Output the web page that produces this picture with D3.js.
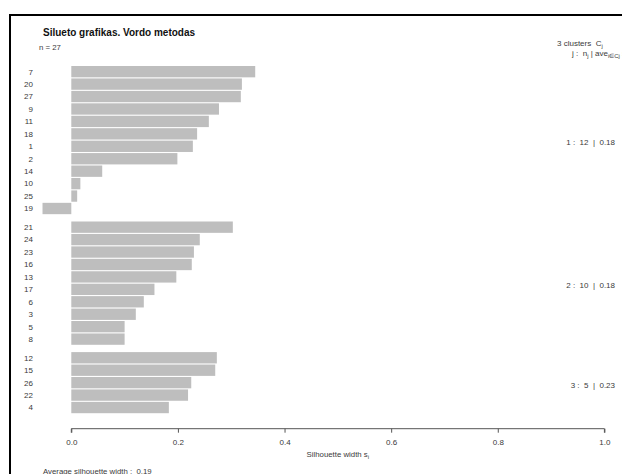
<!DOCTYPE html>
<meta charset="utf-8">
<title>Silueto grafikas</title>
<script src="https://cdn.jsdelivr.net/npm/d3@7"></script>
<style>
body { margin: 0; background: #fff; }
svg { display: block; font-family: "Liberation Sans", Arial, sans-serif; }
text { white-space: pre; }
</style>
<body>
<script>
// silhouette data, top to bottom as drawn
const ids = [7, 20, 27, 9, 11, 18, 1, 2, 14, 10, 25, 19,
	21, 24, 23, 16, 13, 17, 6, 3, 5, 8,
	12, 15, 26, 22, 4];
const clusters = [1, 1, 1, 1, 1, 1, 1, 1, 1, 1, 1, 1,
	2, 2, 2, 2, 2, 2, 2, 2, 2, 2,
	3, 3, 3, 3, 3];
const widths = [0.345, 0.320, 0.318, 0.277, 0.258, 0.236, 0.228, 0.199, 0.058, 0.017, 0.011, -0.054,
	0.303, 0.241, 0.230, 0.226, 0.197, 0.156, 0.136, 0.121, 0.100, 0.100,
	0.273, 0.270, 0.225, 0.219, 0.183];
const xTicks = [0, 0.2, 0.4, 0.6, 0.8, 1.0];

const W = 622, H = 474;
const textColor = '#3a3a3a';
const barColor = '#bebebe';
const gapUnits = 0.5;
const fs = 8;

// row positions in bar units, with a half-unit gap between clusters
const rows = [];
let pos = 0;
ids.forEach((id, i) => {
	if (i > 0 && clusters[i] !== clusters[i - 1]) pos += gapUnits;
	rows.push({ id, cluster: clusters[i], s: widths[i], pos });
	pos += 1;
});
const totalUnits = pos;

const x = d3.scaleLinear().domain([0, 1]).range([71.3, 604.4]);
const y = d3.scaleLinear().domain([0, totalUnits]).range([65.5, 413.8]);
const unit = y(1) - y(0);

const svg = d3.select('body').append('svg')
	.attr('width', W)
	.attr('height', H);

// frame
svg.append('path')
	.attr('d', `M10,${H} V15 H${W}`)
	.attr('fill', 'none')
	.attr('stroke', '#000')
	.attr('stroke-width', 2);

// title
svg.append('text')
	.attr('x', 43).attr('y', 35.5)
	.attr('font-size', 10)
	.attr('font-weight', 'bold')
	.attr('fill', '#111')
	.text('Silueto grafikas. Vordo metodas');
svg.append('text')
	.attr('x', 39).attr('y', 49.5)
	.attr('font-size', 7.8)
	.attr('fill', textColor)
	.text('n = ' + ids.length);

// bars
svg.append('g').selectAll('rect')
	.data(rows)
	.enter().append('rect')
		.attr('x', d => Math.min(x(0), x(d.s)))
		.attr('width', d => Math.abs(x(d.s) - x(0)))
		.attr('y', d => y(d.pos) + 0.5)
		.attr('height', unit - 1.1)
		.attr('fill', barColor);

// row labels
svg.append('g')
	.attr('font-size', fs)
	.attr('fill', textColor)
	.attr('text-anchor', 'end')
	.selectAll('text')
	.data(rows)
	.enter().append('text')
		.attr('x', 33)
		.attr('y', d => y(d.pos + 0.5))
		.attr('dy', '0.35em')
		.text(d => d.id);

// legend header
const legend = svg.append('g').attr('font-size', fs).attr('fill', textColor);
const head1 = legend.append('text').attr('x', 557).attr('y', 46);
head1.append('tspan').text('3 clusters  C');
head1.append('tspan').attr('font-size', 6).attr('dy', 2).text('j');
const head2 = legend.append('text').attr('x', 572).attr('y', 56);
head2.append('tspan').text('j :  n');
head2.append('tspan').attr('font-size', 6).attr('dy', 2).text('j');
head2.append('tspan').attr('dy', -2).text(' | ave');
head2.append('tspan').attr('font-size', 6).attr('dy', 2).text('i\u2208Cj');
head2.append('tspan').attr('dy', -2).text(' s');
head2.append('tspan').attr('font-size', 6).attr('dy', 2).text('i');

// per cluster summary
const groups = d3.groups(rows, d => d.cluster);
legend.selectAll('.cl')
	.data(groups)
	.enter().append('text')
		.attr('text-anchor', 'end')
		.attr('x', 615)
		.attr('y', ([, r]) => (y(r[0].pos) + y(r[r.length - 1].pos + 1)) / 2 + 2)
		.attr('dy', '0.35em')
		.text(([k, r]) => `${k} :  ${r.length}  |  ${d3.format('.2f')(d3.mean(r, d => d.s))}`);

// x axis
const axisY = 428.7;
const axis = svg.append('g')
	.attr('transform', `translate(0,${axisY})`)
	.call(d3.axisBottom(x).tickValues(xTicks).tickFormat(d3.format('.1f')).tickSize(4).tickPadding(7));
axis.select('.domain').attr('stroke', '#555').attr('d', `M${x(0)},4V0H${x(1)}V4`);
axis.selectAll('.tick line').attr('stroke', '#555');
axis.selectAll('text')
	.attr('font-size', fs)
	.attr('fill', textColor)
	.attr('font-family', '"Liberation Sans", Arial, sans-serif');

const xt = svg.append('text')
	.attr('x', x(0.5)).attr('y', 457)
	.attr('text-anchor', 'middle')
	.attr('font-size', 7.8)
	.attr('fill', textColor);
xt.append('tspan').text('Silhouette width s');
xt.append('tspan').attr('font-size', 6).attr('dy', 2).text('i');

svg.append('text')
	.attr('x', 43).attr('y', 473.5)
	.attr('font-size', 7.8)
	.attr('fill', textColor)
	.text('Average silhouette width :  ' + d3.format('.2f')(d3.mean(widths)));
</script>
</body>
